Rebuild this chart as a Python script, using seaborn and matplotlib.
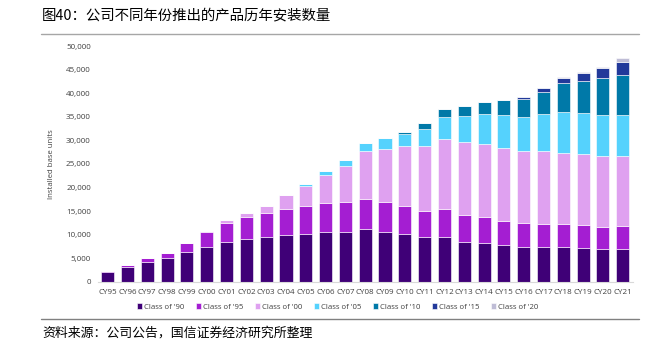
import numpy as np
import pandas as pd
import matplotlib
matplotlib.use('Agg')
import matplotlib.pyplot as plt
import seaborn as sns

# installed base by product class
years = ['CY95', 'CY96', 'CY97', 'CY98', 'CY99', 'CY00', 'CY01', 'CY02', 'CY03',
         'CY04', 'CY05', 'CY06', 'CY07', 'CY08', 'CY09', 'CY10', 'CY11', 'CY12',
         'CY13', 'CY14', 'CY15', 'CY16', 'CY17', 'CY18', 'CY19', 'CY20', 'CY21']

class_90 = [2050, 3180, 4240, 4950, 6360, 7430, 8490, 8980, 9400, 9900, 10110, 10470, 10610,
            11170, 10610, 10040, 9550, 9400, 8490, 8270, 7780, 7360, 7360, 7280, 7070, 6860, 6860]
class_95 = [250, 350, 710, 1200, 1770, 3040, 4030, 4670, 5100, 5520, 5940, 6150, 6290,
            6440, 6220, 6080, 5370, 5950, 5650, 5380, 5090, 5020, 4880, 4880, 4950, 4810, 4950]
class_00 = [0, 0, 0, 0, 0, 280, 560, 990, 1620, 3040, 4250, 5940, 7710,
            10110, 11390, 12730, 13860, 14990, 15490, 15560, 15560, 15340, 15410, 15210, 15070, 14990, 14850]
class_05 = [0, 0, 0, 0, 0, 0, 0, 0, 0, 0, 350, 850, 1210,
            1630, 2260, 2550, 3680, 4670, 5520, 6360, 6860, 7290, 7850, 8700, 8760, 8770, 8630]
class_10 = [0, 0, 0, 0, 0, 0, 0, 0, 0, 0, 0, 0, 0,
            0, 0, 350, 1200, 1690, 2050, 2620, 3180, 3820, 4740, 6010, 6720, 7710, 8630]
class_15 = [0, 0, 0, 0, 0, 0, 0, 0, 0, 0, 0, 0, 0,
            0, 0, 0, 0, 0, 0, 0, 150, 420, 850, 1200, 1770, 2120, 2690]
class_20 = [0, 0, 0, 0, 0, 0, 0, 0, 0, 0, 0, 0, 0,
            0, 0, 0, 0, 0, 0, 0, 0, 0, 0, 100, 100, 200, 850]

series = [("Class of '90", class_90, '#3f0077'),
          ("Class of '95", class_95, '#a41ed2'),
          ("Class of '00", class_00, '#dfa1f0'),
          ("Class of '05", class_05, '#55d2fd'),
          ("Class of '10", class_10, '#0079a8'),
          ("Class of '15", class_15, '#22399a'),
          ("Class of '20", class_20, '#bfbdd6')]

sns.set_style('white')
plt.rcParams['font.family'] = ['Open Sans', 'DejaVu Sans']

fig = plt.figure(figsize=(6.55, 3.54), dpi=100)
ax = fig.add_axes([0.1493, 0.2042, 0.8165, 0.6658])

bottom = np.zeros(len(years))
for name, vals, color in series:
    sns.barplot(x=years, y=vals, bottom=bottom, color=color, label=name, saturation=1,
                width=0.66, edgecolor='white', linewidth=0.4, ax=ax)
    bottom = bottom + np.array(vals)

ax.set_ylim(0, 50000)
ax.set_xlim(-0.5, len(years) - 0.5)
ax.set_yticks(range(0, 50001, 5000))
ax.set_yticklabels([f'{v:,}' for v in range(0, 50001, 5000)])
ax.tick_params(axis='y', length=0, pad=5, labelsize=5.8, labelcolor='#404040')
ax.tick_params(axis='x', length=0, pad=5, labelsize=5.8, labelcolor='#404040')
ax.set_ylabel('Installed base units', fontsize=5.6, color='#404040', labelpad=8)
ax.set_xlabel('')
for s in ['top', 'right', 'left']:
    ax.spines[s].set_visible(False)
ax.spines['bottom'].set_color('#d9d9d9')
ax.spines['bottom'].set_linewidth(0.8)

handles, labels = ax.get_legend_handles_labels()
if ax.legend_:
    ax.legend_.remove()
fig.legend(handles, labels, loc='center', bbox_to_anchor=(0.515, 0.133), ncol=7,
           frameon=False, fontsize=5.6, handlelength=0.7, handleheight=0.7,
           handletextpad=0.2, columnspacing=1.5, labelcolor='#404040')

# title, separators and source note
cjk = ['Noto Sans CJK SC', 'DejaVu Sans']
fig.text(0.064, 0.957, '图40：公司不同年份推出的产品历年安装数量', fontsize=10.4,
         family=cjk, va='center', ha='left', color='#000000')
fig.add_artist(plt.Line2D([0.062, 0.975], [0.904, 0.904], color='#a6a6a6', linewidth=1.0))
fig.add_artist(plt.Line2D([0.062, 0.975], [0.099, 0.099], color='#808080', linewidth=1.0))
fig.text(0.064, 0.058, '资料来源：公司公告，国信证券经济研究所整理', fontsize=9.3,
         family=cjk, va='center', ha='left', color='#000000')

fig.savefig('out.png', dpi=100)
